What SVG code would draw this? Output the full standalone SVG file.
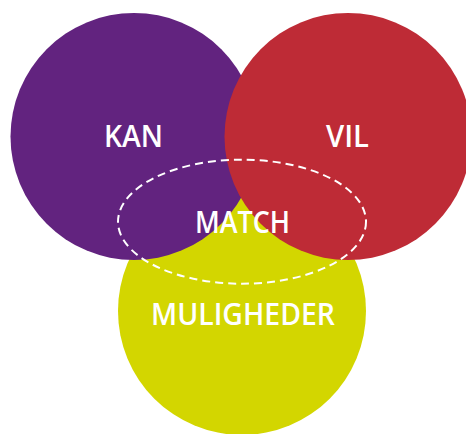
<svg xmlns="http://www.w3.org/2000/svg" width="466" height="434" viewBox="0 0 466 434">
<style>
.lbl{font-family:"Open Sans","DejaVu Sans",sans-serif;font-weight:600;font-size:31px;fill:#ffffff;text-anchor:middle}
</style>
<rect width="466" height="434" fill="#ffffff"/>
<g id="muligheder"><circle cx="242" cy="311" r="124" fill="#D3D600"/></g>
<g id="kan"><circle cx="134" cy="136.5" r="123.5" fill="#62237F"/></g>
<g id="vil"><circle cx="348" cy="136.5" r="123.5" fill="#BE2B36"/></g>
<g id="match"><ellipse cx="242" cy="221.7" rx="124" ry="62" fill="none" stroke="#ffffff" stroke-width="2" stroke-dasharray="8 5"/></g>
<g id="labels">
<text class="lbl" x="133.5" y="147" textLength="59" lengthAdjust="spacingAndGlyphs">KAN</text>
<text class="lbl" x="347.5" y="147" textLength="43" lengthAdjust="spacingAndGlyphs">VIL</text>
<text class="lbl" x="242.5" y="233" textLength="95" lengthAdjust="spacingAndGlyphs">MATCH</text>
<text class="lbl" x="243" y="325" textLength="184" lengthAdjust="spacingAndGlyphs">MULIGHEDER</text>
</g>
<g id="connectors"></g>
</svg>
